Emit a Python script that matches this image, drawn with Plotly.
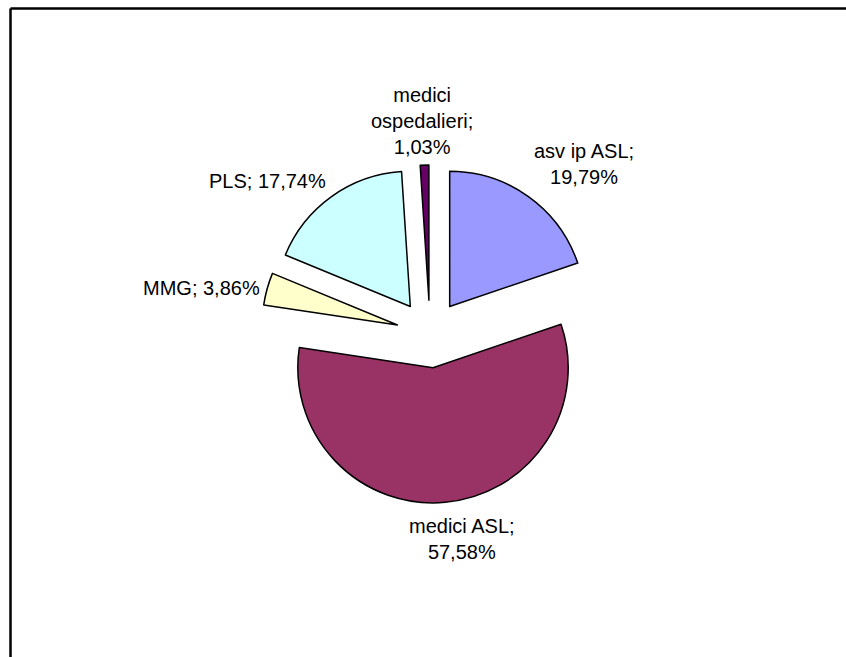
import plotly.graph_objects as go

# Share of prescriptions by prescriber category
categories = ["asv ip ASL", "medici ASL", "MMG", "PLS", "medici ospedalieri"]
shares = [19.79, 57.58, 3.86, 17.74, 1.03]
colors = ["#9999FF", "#993366", "#FFFFCC", "#CCFFFF", "#660066"]

# Label texts (Italian decimal comma), split like the chart's data labels
label_lines = [
    ["asv ip ASL;", "{v}"],
    ["medici ASL;", "{v}"],
    ["MMG; {v}"],
    ["PLS; {v}"],
    ["medici", "ospedalieri;", "{v}"],
]
# Label centres in pixels (x, y from top)
label_pos = [(584, 164), (462, 539), (201, 288), (267, 181), (422, 121)]

W, H = 846, 657
CX, CY, R_OUT = 430, 334, 169

fig = go.Figure(
    go.Pie(
        labels=categories,
        values=shares,
        sort=False,
        direction="clockwise",
        rotation=0,
        pull=[0.25] * len(shares),
        marker=dict(colors=colors, line=dict(color="black", width=1.5)),
        textinfo="none",
        hoverinfo="label+percent",
        showlegend=False,
        domain=dict(
            x=[(CX - R_OUT) / W, (CX + R_OUT) / W],
            y=[(H - CY - R_OUT) / H, (H - CY + R_OUT) / H],
        ),
    )
)

for lines, val, (px, py) in zip(label_lines, shares, label_pos):
    vtxt = f"{val:.2f}%".replace(".", ",")
    text = "<br>".join(s.format(v=vtxt) for s in lines)
    fig.add_annotation(
        x=px / W, y=1 - py / H, xref="paper", yref="paper",
        text=text, showarrow=False, align="center",
        xanchor="center", yanchor="middle",
        font=dict(family="Liberation Sans, Arial, sans-serif", size=20, color="black"),
    )

# Chart area frame: left and top edges (the rest runs off the page)
frame_x, frame_y = 10.5 / W, 1 - 8.5 / H
fig.add_shape(type="line", xref="paper", yref="paper",
              x0=frame_x, x1=frame_x, y0=-0.1, y1=frame_y,
              line=dict(color="black", width=2.5))
fig.add_shape(type="line", xref="paper", yref="paper",
              x0=frame_x, x1=1.1, y0=frame_y, y1=frame_y,
              line=dict(color="black", width=2.5))

fig.update_layout(
    width=W, height=H,
    margin=dict(l=0, r=0, t=0, b=0),
    paper_bgcolor="white", plot_bgcolor="white",
)

fig.write_html("out.html")
